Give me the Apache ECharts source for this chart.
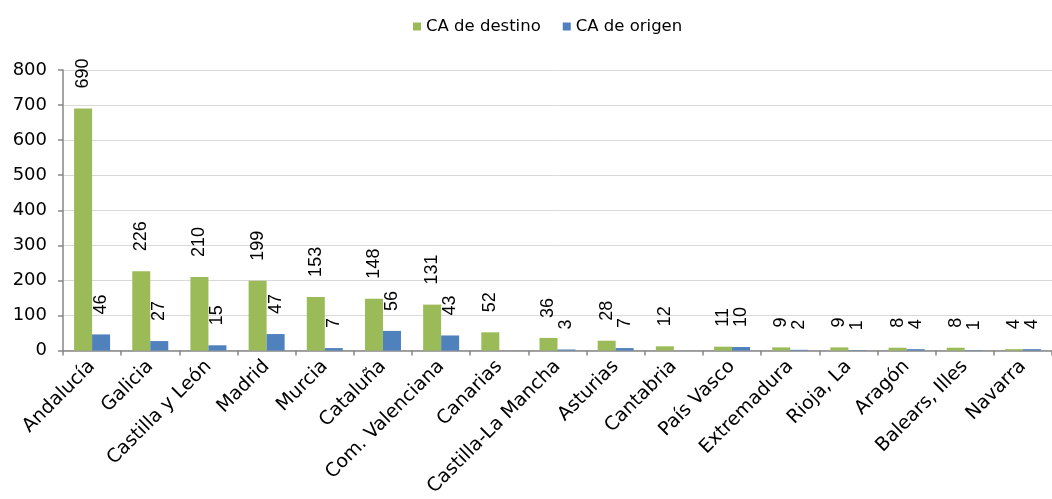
<!DOCTYPE html>
<html>
<head>
<meta charset="utf-8">
<script src="https://cdn.jsdelivr.net/npm/echarts@6/dist/echarts.min.js"></script>
<style>html,body{margin:0;padding:0;background:#fff}#c{width:1052px;height:499px}</style>
</head>
<body>
<div id="c"></div>
<script>
const categories = ['Andalucía','Galicia','Castilla y León','Madrid','Murcia','Cataluña','Com. Valenciana','Canarias','Castilla-La Mancha','Asturias','Cantabria','País Vasco','Extremadura','Rioja, La','Aragón','Balears, Illes','Navarra'];
const destino = [690,226,210,199,153,148,131,52,36,28,12,11,9,9,8,8,4];
const origen = [46,27,15,47,7,56,43,null,3,7,null,10,2,1,4,1,4];
const yTicks = [0,100,200,300,400,500,600,700,800];

const chart = echarts.init(document.getElementById('c'));
const font = 'DejaVu Sans, sans-serif';
const lbl = {
  show: true, position: 'top', rotate: 90, align: 'left', verticalAlign: 'middle',
  distance: 20, fontSize: 18, color: '#000', fontFamily: 'Liberation Sans, Arial, sans-serif'
};
chart.setOption({
  animation: false,
  legend: {
    top: 13, left: 408, itemWidth: 8, itemHeight: 8, itemGap: 22,
    textStyle: { fontSize: 16.5, color: '#000', fontFamily: font },
    data: [{name:'CA de destino', icon:'rect'}, {name:'CA de origen', icon:'rect'}]
  },
  grid: { left: 63, right: -13, top: 70, bottom: 148, containLabel: false },
  xAxis: {
    type: 'category', data: categories,
    axisLine: { lineStyle: { color: '#868686', width: 1.5 } },
    axisTick: { show: true, length: 5, alignWithLabel: false, lineStyle: { color: '#868686', width: 1.5 } },
    axisLabel: { rotate: 45, fontSize: 19, color: '#000', fontFamily: font, margin: 13, interval: 0 }
  },
  yAxis: {
    type: 'value', min: yTicks[0], max: yTicks[yTicks.length-1], interval: 100,
    axisLine: { show: true, lineStyle: { color: '#868686', width: 1.5 } },
    axisTick: { show: true, length: 5, lineStyle: { color: '#868686', width: 1.5 } },
    axisLabel: { fontSize: 18, color: '#000', fontFamily: font, margin: 16 },
    splitLine: { lineStyle: { color: '#d9d9d9', width: 1 } }
  },
  series: [
    { name: 'CA de destino', type: 'bar', data: destino, barWidth: 18, barGap: '0%',
      itemStyle: { color: '#9BBB59' }, label: lbl },
    { name: 'CA de origen', type: 'bar', data: origen, barWidth: 18,
      itemStyle: { color: '#4F81BD' }, label: lbl }
  ]
});
</script>
</body>
</html>
